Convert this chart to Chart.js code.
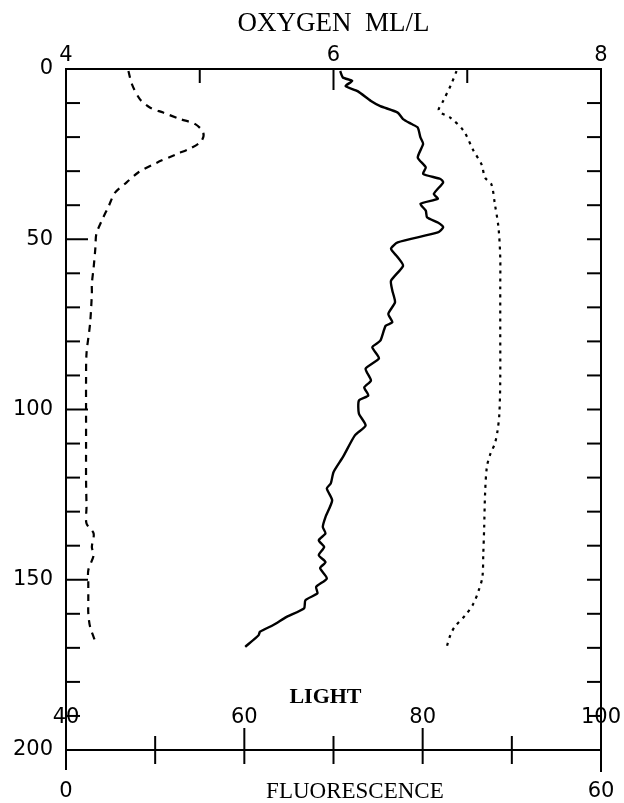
<!DOCTYPE html>
<html>
<head>
<meta charset="utf-8">
<script src="https://cdn.jsdelivr.net/npm/chart.js@4"></script>
<style>
  html, body { margin: 0; padding: 0; background: #fff; }
  #wrap { width: 624px; height: 803px; }
</style>
</head>
<body>
<div id="wrap"><canvas id="c" width="624" height="803"></canvas></div>
<script>
// ---- Data ----
// Oxygen (ml/L) profile, solid line
const oxyDepth = [0.6, 2.5, 3.5, 5, 6.5, 9.4, 10.9, 12.8, 14.7, 16.1, 17.2, 20.1, 22, 26, 28.9, 30.8, 32.3, 33.3, 36.7, 38.1, 39.6, 41.6, 43.6, 45.1, 46.5, 48, 50.9, 52.8, 55.3, 57.8, 62.2, 65.1, 68.5, 71.9, 74.4, 75.4, 79.8, 81.7, 85, 88, 91.5, 93.5, 95.9, 97.4, 101.2, 104.7, 107.6, 114, 118.4, 121.7, 123.2, 126.7, 131.6, 134.5, 136.4, 138.4, 140.4, 142.8, 144.8, 146.6, 149.6, 152.1, 154, 156, 158.4, 160.9, 163.3, 165.3, 166.3, 169.7];
const oxygen   = [6.05, 6.07, 6.14, 6.09, 6.18, 6.28, 6.35, 6.48, 6.52, 6.58, 6.63, 6.65, 6.67, 6.63, 6.69, 6.67, 6.80, 6.82, 6.75, 6.78, 6.65, 6.69, 6.70, 6.78, 6.82, 6.78, 6.48, 6.43, 6.48, 6.52, 6.43, 6.44, 6.46, 6.41, 6.44, 6.39, 6.35, 6.29, 6.34, 6.24, 6.28, 6.23, 6.26, 6.19, 6.19, 6.24, 6.16, 6.07, 6.00, 5.98, 5.95, 5.99, 5.94, 5.92, 5.94, 5.89, 5.93, 5.89, 5.94, 5.90, 5.95, 5.87, 5.88, 5.79, 5.78, 5.65, 5.55, 5.45, 5.44, 5.34];

// Fluorescence profile, dashed line
const fluorDepth = [0.6, 4.5, 8.9, 11.3, 12.8, 14.7, 16.2, 18.7, 21.1, 23.1, 25, 27.5, 30.4, 33.3, 36.3, 40.2, 44.6, 48.5, 52.4, 58.3, 63.1, 66, 74.8, 83.6, 91.5, 101.2, 111, 120.8, 128.6, 133.5, 136.4, 140.4, 142.8, 147.2, 151, 156, 159.8, 163.8, 168.2];
const fluorescence = [7.0, 7.4, 8.3, 9.4, 10.9, 12.8, 14.5, 15.4, 15.2, 14.1, 12.4, 10.2, 8.1, 6.8, 5.5, 4.8, 4.0, 3.4, 3.3, 3.1, 2.9, 2.9, 2.7, 2.3, 2.25, 2.25, 2.25, 2.25, 2.3, 2.3, 3.1, 2.9, 3.1, 2.5, 2.5, 2.5, 2.5, 2.7, 3.3];

// Light profile, dotted line
const lightDepth = [0.6, 4.5, 9.4, 12.3, 14.3, 18.2, 24, 28, 31.9, 33.8, 39.7, 46.5, 55.3, 64.1, 76.8, 91.5, 101.3, 106.2, 110, 113, 116.9, 124.7, 134.5, 142.3, 149.2, 153, 157, 160.4, 163.8, 166.3, 169.7];
const light      = [83.8, 83.2, 82.3, 81.8, 83.1, 84.6, 85.7, 86.6, 87.0, 87.7, 88.1, 88.5, 88.7, 88.7, 88.7, 88.7, 88.6, 88.4, 88.1, 87.6, 87.2, 87.0, 86.9, 86.8, 86.7, 86.3, 85.7, 84.8, 83.6, 83.1, 82.7];

// Tick values
const depthTicks = [10, 20, 30, 40, 50, 60, 70, 80, 90, 100, 110, 120, 130, 140, 150, 160, 170, 180, 190];
const oxyTicks = [5, 6, 7];
const fluorTicks = [10, 20, 30, 40, 50];
const lightLabels = [40, 60, 80, 100];

const TICK_FONT = { family: '"DejaVu Sans", sans-serif', size: 21 };
const pts = (ys, xs) => xs.map((v, i) => ({ x: v, y: ys[i] }));
const noPad = s => { s.paddingLeft = 0; s.paddingRight = 0; };

const framePlugin = {
  id: 'framePlugin',
  afterDatasetsDraw(chart) {
    const { ctx, chartArea: a, scales } = chart;
    const y = scales.y, xo = scales.xOxy, xf = scales.xFl, xl = scales.xLight;
    const line = (x1, y1, x2, y2) => { ctx.beginPath(); ctx.moveTo(x1, y1); ctx.lineTo(x2, y2); ctx.stroke(); };
    ctx.save();
    ctx.strokeStyle = '#000';
    ctx.lineWidth = 2;
    ctx.setLineDash([]);
    // frame
    line(a.left, a.top, a.right, a.top);
    line(a.left, a.top - 1, a.left, a.bottom + 20);
    line(a.right, a.top - 1, a.right, a.bottom + 22);
    line(a.left, a.bottom, a.right, a.bottom);
    // depth ticks (inward)
    depthTicks.forEach(d => {
      const py = y.getPixelForValue(d);
      line(a.left, py, a.left + (d % 50 === 0 ? 22 : 14), py);
      line(a.right, py, a.right - 14, py);
    });
    // oxygen ticks (inward, top)
    oxyTicks.forEach(v => {
      const px = xo.getPixelForValue(v);
      line(px, a.top, px, a.top + (v === 6 ? 21 : 14));
    });
    // fluorescence / light ticks (crossing bottom axis)
    fluorTicks.forEach(v => {
      const px = xf.getPixelForValue(v);
      line(px, a.bottom - (v % 20 === 0 ? 22 : 14), px, a.bottom + 14);
    });
    ctx.fillStyle = '#000';
    ctx.textAlign = 'center';
    ctx.textBaseline = 'middle';
    // light tick labels (inside the frame, above the bottom axis)
    ctx.font = '21px "DejaVu Sans", sans-serif';
    lightLabels.forEach(v => {
      ctx.fillText(String(v), xl.getPixelForValue(v), a.bottom - 32);
    });
    // axis titles for light and fluorescence
    ctx.font = 'bold 22px "Liberation Serif", serif';
    ctx.fillText('LIGHT', a.left + (a.right - a.left) * 0.485, a.bottom - 53);
    ctx.font = '23px "Liberation Serif", serif';
    ctx.fillText('FLUORESCENCE', a.left + (a.right - a.left) * 0.54, a.bottom + 42);
    ctx.restore();
  }
};

new Chart(document.getElementById('c'), {
  type: 'scatter',
  data: {
    datasets: [
      {
        label: 'Oxygen',
        data: pts(oxyDepth, oxygen),
        xAxisID: 'xOxy', yAxisID: 'y',
        showLine: true, borderColor: '#000', borderWidth: 2.4,
        pointRadius: 0, tension: 0.2, fill: false
      },
      {
        label: 'Fluorescence',
        data: pts(fluorDepth, fluorescence),
        xAxisID: 'xFl', yAxisID: 'y',
        showLine: true, borderColor: '#000', borderWidth: 2.2,
        borderDash: [7, 6],
        pointRadius: 0, tension: 0.3, fill: false
      },
      {
        label: 'Light',
        data: pts(lightDepth, light),
        xAxisID: 'xLight', yAxisID: 'y',
        showLine: true, borderColor: '#000', borderWidth: 2.2,
        borderDash: [3, 5],
        pointRadius: 0, tension: 0.3, fill: false
      }
    ]
  },
  options: {
    responsive: false,
    animation: false,
    layout: { padding: { left: 0, right: 23, top: 0, bottom: 0 } },
    plugins: { legend: { display: false }, tooltip: { enabled: false } },
    scales: {
      y: {
        type: 'linear', position: 'left', reverse: true,
        min: 0, max: 200,
        afterFit: s => { s.width = 66; },
        grid: { display: false, drawTicks: false },
        border: { display: false },
        ticks: { stepSize: 50, padding: 13, color: '#000', font: TICK_FONT, autoSkip: false }
      },
      xOxy: {
        type: 'linear', position: 'top',
        min: 4, max: 8,
        afterFit: s => { s.height = 69; noPad(s); },
        grid: { display: false, drawTicks: false },
        border: { display: false },
        ticks: { stepSize: 2, padding: 1, color: '#000', font: TICK_FONT, autoSkip: false, maxRotation: 0 },
        title: { display: true, text: 'OXYGEN  ML/L', color: '#000',
                 font: { family: '"Liberation Serif", serif', size: 27 }, padding: { top: 8, bottom: 0 } }
      },
      xLight: {
        type: 'linear', position: 'bottom', display: false,
        min: 40, max: 100,
        afterFit: noPad
      },
      xFl: {
        type: 'linear', position: 'bottom',
        min: 0, max: 60,
        afterFit: s => { s.height = 53; noPad(s); },
        grid: { display: false, drawTicks: false },
        border: { display: false },
        ticks: { stepSize: 60, padding: 29, color: '#000', font: TICK_FONT, autoSkip: false, maxRotation: 0 }
      }
    }
  },
  plugins: [framePlugin]
});
</script>
</body>
</html>
